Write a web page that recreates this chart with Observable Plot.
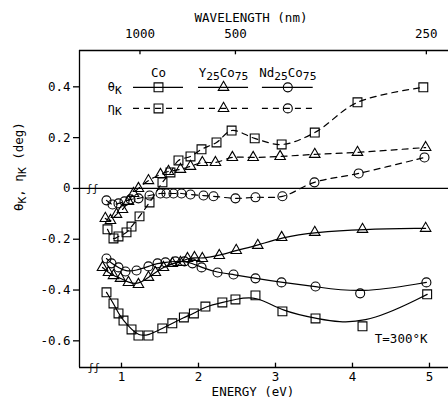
<!DOCTYPE html>
<html><head><meta charset="utf-8">
<script src="https://cdn.jsdelivr.net/npm/d3@7"></script>
<script src="https://cdn.jsdelivr.net/npm/@observablehq/plot@0.6"></script>
<style>body{margin:0;background:#fff} svg{display:block}</style>
</head><body><div id="chart"></div>
<script>
// ---- data (energy eV, value deg) ----
const energyTicks = [1, 2, 3, 4, 5];
const wavelengthTicks = [1000, 500, 250];
const yTicks = [0.4, 0.2, 0, -0.2, -0.4, -0.6];

const coTheta = [[0.805,-0.409],[0.896,-0.453],[0.961,-0.492],[1.026,-0.520],[1.13,-0.555],[1.22,-0.579],[1.35,-0.579],[1.53,-0.551],[1.66,-0.531],[1.81,-0.508],[1.94,-0.492],[2.09,-0.465],[2.31,-0.449],[2.48,-0.437],[2.74,-0.421],[3.09,-0.484],[3.52,-0.512],[4.13,-0.543],[4.97,-0.417]];
const coEta = [[0.818,-0.161],[0.896,-0.197],[0.961,-0.189],[1.065,-0.173],[1.13,-0.150],[1.234,-0.110],[1.364,-0.055],[1.532,0.024],[1.636,0.063],[1.74,0.110],[1.896,0.126],[2.039,0.154],[2.234,0.181],[2.43,0.228],[2.73,0.197],[3.08,0.173],[3.51,0.220],[4.065,0.339],[4.92,0.398]];
const yTheta = [[0.753,-0.311],[0.831,-0.331],[0.896,-0.343],[0.987,-0.354],[1.09,-0.370],[1.22,-0.378],[1.35,-0.350],[1.44,-0.331],[1.545,-0.311],[1.66,-0.295],[1.766,-0.291],[1.857,-0.276],[1.948,-0.272],[2.05,-0.276],[2.27,-0.264],[2.49,-0.244],[2.77,-0.224],[3.08,-0.193],[3.51,-0.173],[4.13,-0.161],[4.95,-0.157]];
const yEta = [[0.79,-0.118],[0.857,-0.126],[0.935,-0.102],[1.013,-0.083],[1.09,-0.051],[1.156,-0.020],[1.22,0.0],[1.35,0.031],[1.506,0.055],[1.61,0.067],[1.766,0.075],[1.896,0.087],[2.05,0.102],[2.22,0.102],[2.44,0.122],[2.71,0.122],[3.06,0.126],[3.51,0.134],[4.065,0.142],[4.95,0.161]];
const ndTheta = [[0.805,-0.276],[0.87,-0.295],[0.961,-0.311],[1.052,-0.327],[1.195,-0.323],[1.35,-0.307],[1.468,-0.295],[1.571,-0.291],[1.70,-0.287],[1.818,-0.287],[1.922,-0.295],[2.04,-0.311],[2.247,-0.331],[2.455,-0.339],[2.74,-0.354],[3.078,-0.370],[3.52,-0.386],[4.10,-0.413],[4.96,-0.370]];
const ndEta = [[0.805,-0.047],[0.883,-0.063],[0.961,-0.059],[1.039,-0.051],[1.117,-0.043],[1.22,-0.039],[1.364,-0.028],[1.506,-0.020],[1.584,-0.020],[1.675,-0.020],[1.779,-0.020],[1.896,-0.024],[2.065,-0.028],[2.195,-0.031],[2.48,-0.039],[2.74,-0.035],[3.09,-0.031],[3.506,0.024],[4.08,0.059],[4.935,0.122]];

const seriesNames = ["Co", "Y_{25}Co_{75}", "Nd_{25}Co_{75}"];
const seriesSymbols = ["square", "triangle", "circle"];
const quantityNames = ["θ_{K}", "η_{K}"];

// ---- layout ----
const xDom = [0.4545, 5.247], yDom = [-0.705, 0.543];
const symbolR = {square: 5, triangle: 3.9, circle: 4.5};
const toE = wl => 1239.84 / wl;
const fmt = d => d === 0 ? "0" : (d < 0 ? "-" : "") + Math.abs(d).toFixed(1);
const X = d => d[0], Y = d => d[1];

const series = [
  {data: coTheta, sym: "square", dash: false},
  {data: yTheta, sym: "triangle", dash: false},
  {data: ndTheta, sym: "circle", dash: false},
  {data: coEta, sym: "square", dash: true},
  {data: yEta, sym: "triangle", dash: true},
  {data: ndEta, sym: "circle", dash: true}
];

// legend layout (in data units)
const legendCols = [[1.156, 1.805], [2.0, 2.65], [2.83, 3.49]];
const legendRowsV = [0.398, 0.315];
const legendSeg = [];
const legendDots = [];
legendCols.forEach((c, i) => legendRowsV.forEach((v, j) => {
  legendSeg.push({x1: c[0], x2: c[1], y: v, dash: j === 1});
  legendDots.push({x: (c[0] + c[1]) / 2, y: v, sym: seriesSymbols[i]});
}));
const legendHead = legendCols.map((c, i) => ({x: (c[0] + c[1]) / 2, y: 0.453, t: seriesNames[i]}));
const legendRowLab = legendRowsV.map((v, j) => ({x: 0.91, y: v, t: quantityNames[j]}));

const marks = [
  Plot.ruleX([xDom[0]], {strokeWidth: 1.3}),
  Plot.ruleY([yDom[0], yDom[1]], {strokeWidth: 1.3}),
  Plot.ruleY([0], {strokeWidth: 1.2}),
  Plot.ruleX(energyTicks, {y1: yDom[0], y2: yDom[0] + 0.017, strokeWidth: 1.3}),
  Plot.ruleX(wavelengthTicks.map(toE), {y1: yDom[1], y2: yDom[1] - 0.017, strokeWidth: 1.3}),
  Plot.axisY(yTicks, {tickFormat: fmt, tickSize: 6, tickPadding: 3, label: null, strokeWidth: 1.3}),
  Plot.axisX(energyTicks, {anchor: "bottom", tickSize: 0, tickPadding: 5, label: null, tickFormat: d => String(d)}),
  Plot.axisX(wavelengthTicks.map(toE), {anchor: "top", tickSize: 0, tickPadding: 13, label: null, tickFormat: d => String(Math.round(1239.84 / d))}),
  Plot.text(["ENERGY (eV)"], {frameAnchor: "bottom", dy: 28, dx: -11}),
  Plot.text(["WAVELENGTH (nm)"], {frameAnchor: "top", dy: -37, dx: -13}),
  Plot.text(["θ_{K}, η_{K} (deg)"], {frameAnchor: "left", dx: -61, dy: 2, rotate: -90}),
  Plot.text(["T=300°K"], {frameAnchor: "bottom-right", dx: -21, dy: -25, textAnchor: "end"}),
  Plot.text([[0.62, 0], [0.64, yDom[0]]], {x: X, y: Y, text: () => "ʃʃ", fontSize: 10}),
  ...series.map(s => Plot.line(s.data, {x: X, y: Y, curve: s.dash ? "catmull-rom" : "basis", strokeWidth: 1.2, strokeDasharray: s.dash ? "6,5" : null})),
  ...series.map(s => Plot.dot(s.data, {x: X, y: Y, symbol: s.sym, r: symbolR[s.sym], stroke: "black", fill: "none", strokeWidth: 1.1})),
  Plot.ruleY(legendSeg.filter(d => !d.dash), {x1: "x1", x2: "x2", y: "y", strokeWidth: 1.2}),
  Plot.ruleY(legendSeg.filter(d => d.dash), {x1: "x1", x2: "x2", y: "y", strokeWidth: 1.2, strokeDasharray: "6,5"}),
  ...seriesSymbols.map(sym => Plot.dot(legendDots.filter(d => d.sym === sym), {x: "x", y: "y", symbol: sym, r: symbolR[sym], stroke: "black", fill: "none", strokeWidth: 1.1})),
  Plot.text(legendHead, {x: "x", y: "y", text: "t"}),
  Plot.text(legendRowLab, {x: "x", y: "y", text: "t"})
];

const plot = Plot.plot({
  width: 448, height: 404,
  marginLeft: 79, marginRight: 0, marginTop: 50, marginBottom: 37,
  style: {fontFamily: "'DejaVu Sans Mono', monospace", fontSize: "12.5px", color: "#000", background: "#fff", overflow: "visible"},
  x: {domain: xDom},
  y: {domain: yDom},
  marks
});

function subscriptify(root) {
  const ns = "http://www.w3.org/2000/svg";
  root.querySelectorAll("text, tspan").forEach(el => {
    if (el.children.length) return;
    const s = el.textContent;
    if (!s.includes("_{")) return;
    el.textContent = "";
    const re = /_\{([^}]*)\}/g;
    let last = 0, m;
    while ((m = re.exec(s))) {
      if (m.index > last) { const t = document.createElementNS(ns, "tspan"); t.textContent = s.slice(last, m.index); el.appendChild(t); }
      const t = document.createElementNS(ns, "tspan");
      t.setAttribute("baseline-shift", "-3");
      t.setAttribute("font-size", "90%");
      t.textContent = m[1];
      el.appendChild(t);
      last = re.lastIndex;
    }
    if (last < s.length) { const t = document.createElementNS(ns, "tspan"); t.textContent = s.slice(last); el.appendChild(t); }
  });
}
subscriptify(plot);
document.getElementById("chart").appendChild(plot);
</script>
</body></html>
